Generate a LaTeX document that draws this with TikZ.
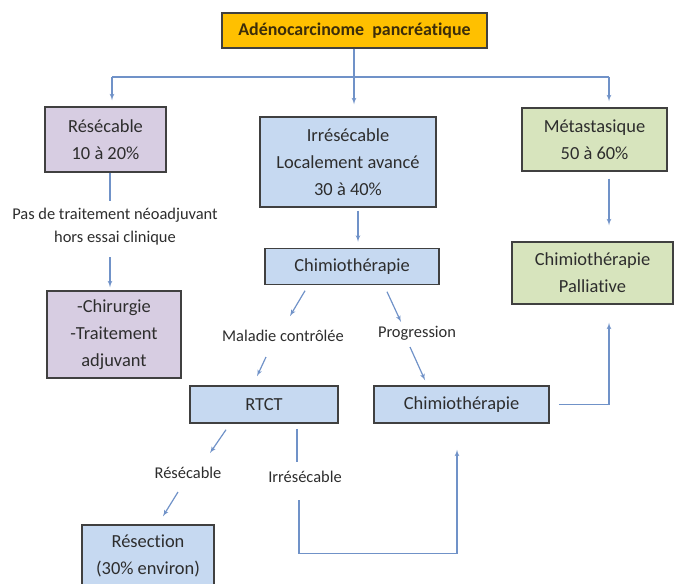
\documentclass[tikz,border=0pt]{standalone}
\usepackage{fontspec}
\setmainfont{Carlito}[Ligatures=NoCommon]
\usetikzlibrary{arrows,positioning}
\definecolor{titleYellow}{RGB}{255,192,0}
\definecolor{titleBrown}{RGB}{60,45,10}
\definecolor{purpleFill}{RGB}{215,205,226}
\definecolor{blueFill}{RGB}{198,217,241}
\definecolor{greenFill}{RGB}{215,228,189}
\definecolor{boxGray}{RGB}{64,64,64}
\definecolor{textGray}{RGB}{45,45,45}
\definecolor{arrowBlue}{RGB}{112,146,200}

\begin{document}
\begin{tikzpicture}[x=1bp,y=-1bp,
				block/.style ={rectangle, draw=boxGray, line width=1.5pt,
					align=center, text=textGray, inner sep=2pt,
					font=\fontsize{18.5}{27}\selectfont},
				block_title/.style ={block, fill=titleYellow, text=titleBrown,
					font=\fontsize{18}{20}\selectfont\bfseries},
				block_purple/.style ={block, fill=purpleFill},
				block_blue/.style ={block, fill=blueFill},
				block_green/.style ={block, fill=greenFill},
				label_text/.style ={align=center, inner sep=0pt, text=textGray,
					font=\fontsize{16.5}{23}\selectfont},
				line/.style ={draw=arrowBlue, line width=1.2pt, -latex', shorten >=0pt}]
				\useasboundingbox (0,0) rectangle (675,584);
				% top row
				\node [block_title, minimum width=265bp, minimum height=35bp] (adeno) at (354.5,30.5) {Adénocarcinome\ \ pancréatique};
				% row 2
				\node [block_purple, minimum width=121bp, minimum height=65bp] (resecable) at (105.5,139.5) {Résécable\\10 à 20\%};
				\node [block_blue, minimum width=176bp, minimum height=90bp] (irresecable) at (348,162) {Irrésécable\\Localement avancé\\30 à 40\%};
				\node [block_green, minimum width=145bp, minimum height=63bp] (metastase) at (594.5,139.5) {Métastasique\\50 à 60\%};
				% row 3
				\node [label_text] (neoLabel) at (115,227) {Pas de traitement néoadjuvant\\hors essai clinique};
				\node [block_blue, minimum width=174bp, minimum height=36bp] (chimioFirst) at (352,266.5) {Chimiothérapie};
				\node [block_green, minimum width=161bp, minimum height=62bp] (palliative) at (592.5,273) {Chimiothérapie\\Palliative};
				% row 4
				\node [block_purple, minimum width=134bp, minimum height=87bp] (chirurgie) at (114,334.5) {-Chirurgie\\-Traitement\\adjuvant};
				\node [label_text] (maladieLabel) at (283,336) {Maladie contrôlée};
				\node [label_text] (progressionLabel) at (417,333) {Progression};
				% row 5
				\node [block_blue, minimum width=148bp, minimum height=37bp] (rtct) at (264,404.5) {RTCT};
				\node [block_blue, minimum width=175bp, minimum height=37bp] (chimioSecond) at (461.5,404.5) {Chimiothérapie};
				% row 6
				\node [label_text] (resecLabel) at (188,473) {Résécable};
				\node [label_text] (irresLabel) at (305,477) {Irrésécable};
				\node [block_blue, minimum width=132bp, minimum height=62bp] (resection) at (148,556) {Résection\\(30\% environ)};
				% branching line
				\coordinate (splitLeft) at (112,77);
				\coordinate (splitRight) at (609,77);
				% connecting nodes with paths
				\begin{scope}[every path/.style=line]
					\path ([shift={(-0.5,0)}]adeno.south) -- ([shift={(-0.5,-12)}]adeno.south |- irresecable.north);
					\path[-] (splitLeft) -- (splitRight);
					\path (splitLeft) -- ([yshift=6bp]splitLeft |- resecable.north);
					\path (splitRight) -- ([yshift=6bp]splitRight |- metastase.north);
					\path ([yshift=-7bp]metastase.south -| splitRight) -- ([yshift=16bp]palliative.north -| splitRight);
					% left column
					\path[-] ([shift={(4.5,0)}]resecable.south) -- ([shift={(4.5,28)}]resecable.south);
					\path ([shift={(-4,-33)}]chirurgie.north) -- ([shift={(-4,-3)}]chirurgie.north);
					% middle column
					\path ([shift={(10,3)}]irresecable.south) -- ([shift={(6,-6)}]chimioFirst.north);
					\path ([shift={(-47,5.5)}]chimioFirst.south) -- ([shift={(7,-20)}]maladieLabel.center);
					\path ([shift={(-17,21)}]maladieLabel.center) -- ([shift={(-7,-9)}]rtct.north);
					\path ([shift={(35,6.5)}]chimioFirst.south) -- ([shift={(-16,-11)}]progressionLabel.center);
					\path ([shift={(-7,14)}]progressionLabel.center) -- ([shift={(-36.5,-5)}]chimioSecond.north);
					\path ([xshift=9bp]chimioSecond.east) -| ([yshift=-18bp]palliative.south -| splitRight);
					% bottom rows
					\path ([shift={(-38,6)}]rtct.south) -- ([shift={(22,-20)}]resecLabel.center);
					\path ([shift={(-10,19)}]resecLabel.center) -- ([shift={(15,-8)}]resection.north);
					\path[-] ([shift={(33,5)}]rtct.south) -- ([shift={(-8,-15)}]irresLabel.center);
					\path ([shift={(-6,23)}]irresLabel.center) |- ([shift={(-4.5,130)}]chimioSecond.south) -- ([shift={(-4.5,26)}]chimioSecond.south);
				\end{scope}
\end{tikzpicture}
\end{document}
